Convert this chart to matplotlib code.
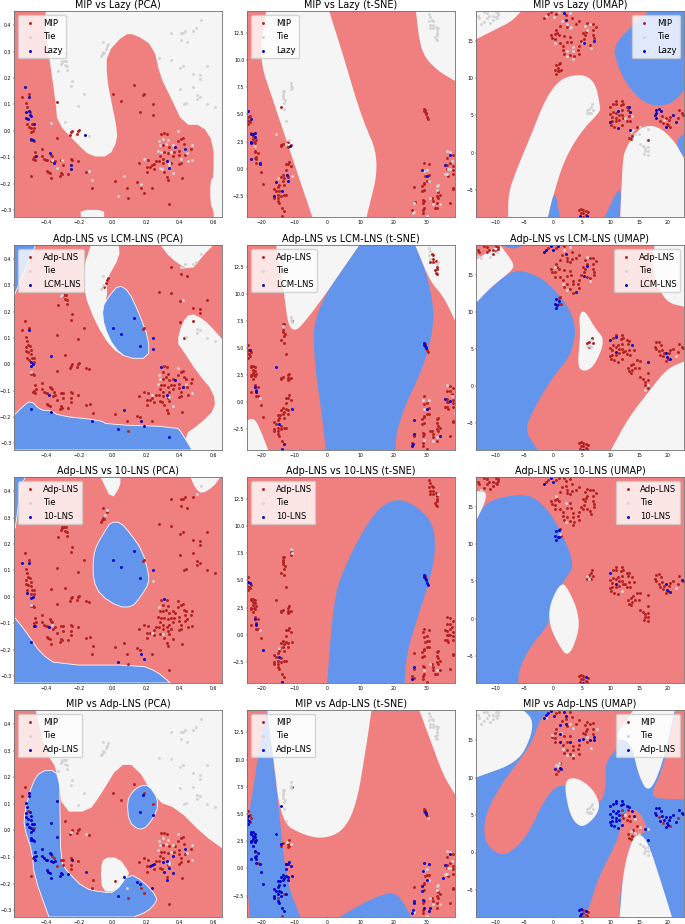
import matplotlib
matplotlib.use('Agg')
import matplotlib.pyplot as plt
import numpy as np

RED_BG = 'lightcoral'
TIE_BG = 'whitesmoke'
BLUE_BG = 'cornflowerblue'

# axis limits and ticks per projection
pca_lim = (-0.589, 0.654, -0.326, 0.454)
tsne_lim = (-24.3, 38.5, -4.47, 14.56)
umap_lim = (-13.4, 22.8, -8.6, 19.0)
pca_xticks = [-0.4, -0.2, 0.0, 0.2, 0.4, 0.6]
pca_yticks = [-0.3, -0.2, -0.1, 0.0, 0.1, 0.2, 0.3, 0.4]
tsne_xticks = [-20, -10, 0, 10, 20, 30]
tsne_yticks = [-2.5, 0.0, 2.5, 5.0, 7.5, 10.0, 12.5]
umap_xticks = [-10, -5, 0, 5, 10, 15, 20]
umap_yticks = [-5, 0, 5, 10, 15]

# ---- PCA embedding
pca_strand = [(-.54,.13),(-.525,.165),(-.515,.105),(-.51,.09),(-.50,.14),(-.50,.13),(-.505,.075),(-.52,.065),
              (-.515,.05),(-.505,.045),(-.49,.055),(-.495,.07),(-.485,.04),(-.48,.025),(-.47,.025),(-.51,.025),
              (-.50,.015),(-.49,.01),(-.485,-.005),(-.475,0),(-.47,.01),(-.49,-.03),(-.485,-.035),(-.475,-.035),
              (-.47,-.04),(-.465,-.08),(-.455,-.095),(-.47,-.1),(-.465,-.11),(-.475,-.105),(-.485,-.17)]
pca_lower = [(-.42,-.07),(-.42,-.095),(-.41,-.105),(-.40,-.11),(-.39,-.11),(-.375,-.085),(-.37,-.09),(-.36,-.095),
             (-.35,-.105),(-.345,-.115),(-.37,-.115),(-.355,-.12),(-.39,-.15),(-.385,-.155),(-.375,-.16),(-.37,-.18),
             (-.31,-.11),(-.295,-.11),(-.31,-.16),(-.315,-.17),(-.295,-.13),(-.30,-.165),(-.25,-.105),(-.245,-.11),
             (-.25,-.13),(-.25,-.145),(-.265,-.165),(-.205,-.115),(-.16,-.155),(-.135,-.15),(-.115,-.185),
             (-.125,-.215),(-.33,-.135)]
pca_mid = [(-.335,.11),(-.33,-.025),(-.25,-.005),(-.255,-.015),(-.245,0),(-.215,-.01),(-.205,0),(-.20,.005),
           (-.16,-.015),(-.14,-.018)]
pca_cloud = [(-.365,.03),(-.285,.035),(-.285,.295),(-.29,.265),(-.28,.265),(-.305,.265),(-.30,.26),(-.31,.255),
             (-.285,.25),(-.325,.225),(-.275,.245),(-.27,.23),(-.24,.19),(-.25,.17),(-.17,.14),(-.205,.095),
             (-.065,.29),(-.06,.30),(-.07,.285),(-.05,.295),(-.04,.31),(-.035,.32),(-.03,.33),(-.06,.335),
             (.35,.37),(.41,.37),(.41,.345),(.42,.37),(.43,.38),(.445,.335),(.48,.38),(.50,.39),(.53,.42),
             (.28,.275),(.35,.27),(.405,.24),(.42,.245),(.48,.215),(.525,.21),(.525,.195),(.565,.245),(.48,.165),
             (.405,.16),(.505,.135),(.505,.12),(.525,.13),(.425,.10),(.44,.105),(.565,.10),(.61,.09)]
pca_center = [(0,.14),(.05,.115),(.13,.175),(.18,.135),(.19,.14),(.165,.07),(.24,.10),(.24,.06)]
pca_blob = [(.29,-.01),(.31,-.008),(.325,-.012),(.30,-.03),(.33,-.035),(.28,-.04),(.285,-.055),(.30,-.055),(.32,-.05),
            (.34,-.06),(.36,-.055),(.375,-.06),(.39,-.04),(.39,-.015),(.41,-.03),(.42,-.025),(.425,-.05),(.44,-.055),
            (.475,-.055),(.47,-.07),(.43,-.07),(.40,-.075),(.37,-.08),(.35,-.08),(.33,-.085),(.31,-.08),(.29,-.08),
            (.27,-.075),(.285,-.095),(.30,-.105),(.325,-.115),(.34,-.105),(.36,-.095),(.395,-.09),(.41,-.105),
            (.43,-.09),(.445,-.085),(.475,-.11),(.45,-.115),(.41,-.12),(.40,-.125),(.35,-.12),(.33,-.13),(.30,-.12),
            (.28,-.115),(.26,-.115),(.25,-.125),(.235,-.13),(.225,-.135),(.205,-.135),(.16,-.12),(.19,-.105),(.21,-.11),
            (.205,-.155),(.25,-.145),(.285,-.14),(.295,-.145),(.305,-.155),(.34,-.14),(.36,-.16),(.33,-.185),(.325,-.175),
            (.415,-.18)]
pca_bottom = [(.015,-.19),(.03,-.245),(.07,-.175),(.085,-.215),(.09,-.255),(.145,-.195),(.17,-.215),(.165,-.2),
              (.185,-.235),(.235,-.215),(.335,-.278)]
pca_points = pca_strand + pca_lower + pca_mid + pca_cloud + pca_center + pca_blob + pca_bottom

pca_blob_ties = [(.28,-.04),(.285,-.055),(.30,-.03),(.33,-.035),(.39,-.0),(.27,-.075),(.29,-.08),(.32,-.05),(.35,-.08),
                 (.36,-.055),(.43,-.07),(.445,-.085),(.475,-.055),(.475,-.11),(.45,-.115),(.41,-.105),(.285,-.14),
                 (.295,-.145),(.36,-.16),(.34,-.13),(.19,-.105),(.335,-.12)]
lazy_pca_tie = pca_cloud + pca_blob_ties + [(-.36,-.11),(-.30,-.11),(-.335,-.14),(-.14,-.018),(-.125,-.185),(-.14,-.15),
                                            (.07,-.172),(.17,-.2),(.03,-.245)]
lazy_pca_blue = [(-.525,.165),(-.50,.13),(-.515,.07),(-.50,.075),(-.495,.06),(-.515,.05),(-.505,.045),(-.485,.055),
                 (-.47,.025),(-.485,-.03),(-.475,-.035),(-.455,-.095),(-.375,-.085),(-.35,-.12),(-.25,-.13),(-.25,-.145),
                 (-.165,-.015),(.325,-.115),(.34,-.14),(.375,-.06),(.43,-.07)]
lcm_pca_tie = [(-.31,.26),(-.30,.265),(-.065,.29),(-.07,.285),(-.06,.30),(-.06,.335),(.41,.37),(.42,.37),(.43,.38),
               (.48,.38),(.50,.39),(.53,.42),(.42,.245),(.505,.135),(.525,.13),(.505,.12),(.44,.105),(.565,.10),(.61,.09),
               (.39,-.015),(.28,-.04),(.285,-.055),(.27,-.075),(.235,-.115),(.34,-.125),(.36,-.16),(.475,-.11),
               (.44,-.075),(-.49,-.03)]
lcm_pca_blue = [(-.50,.13),(-.49,.01),(-.485,-.005),(-.475,0),(-.485,-.17),(-.38,-.115),(-.37,-.18),(-.365,.03),
                (-.125,-.215),(0,.14),(.05,.115),(.13,.175),(.165,.07),(.24,.10),(.24,.06),(.29,-.01),(.07,-.175),
                (.03,-.245),(.17,-.215),(.185,-.235),(.335,-.278),(.325,-.115),(.375,-.06),(.42,-.087)]
ten_pca_tie = [(-.36,-.105),(-.49,-.03),(-.035,.33),(-.045,.31),(.24,.06),(.28,-.04),(.235,-.135),(.30,-.14),(.53,.42),(.505,.39)]
ten_pca_blue = [(-.54,.13),(-.50,.13),(-.51,.015),(-.485,-.005),(-.475,0),(-.465,-.11),(-.47,-.11),(-.38,-.115),
                (-.485,-.17),(0,.14),(.05,.115),(.13,.175),(.165,.07),(.24,.10),(.31,-.008),(.03,-.245),(.17,-.215),(.185,-.235)]
adp_pca_tie = pca_cloud[2:] + [(.28,-.04),(.30,-.03),(.33,-.035),(.285,-.055),(.27,-.075),(.32,-.05),(.36,-.055),(.35,-.08),
                               (.39,-.015),(.43,-.07),(.445,-.085),(.475,-.055),(.475,-.11),(.34,-.125),(.335,-.12),
                               (-.25,-.005),(-.16,-.015),(-.16,-.155),(.07,-.172),(.085,-.215)]
adp_pca_mip = [(-.54,.13),(-.525,.165),(-.505,.075),(-.515,.025),(-.47,.01),(-.475,-.105),(-.485,-.17),(-.36,-.095),(-.35,-.105),
               (-.31,-.11),(-.295,-.11),(-.295,-.13),(-.25,-.105),(-.245,-.11),(-.25,-.13),(-.25,-.145),(-.205,-.115),
               (-.135,-.15),(-.115,-.185),(-.125,-.215),(-.33,-.135)]
adp_pca_blue = [p for p in pca_strand + pca_lower if p not in adp_pca_mip] + \
               [(-.335,.11),(-.365,.03),(-.33,-.025),(-.245,-.11),(0.18,.135),(.165,.07),(.24,.06),(.07,-.175),(.03,-.245),
                (.145,-.195),(.165,-.2),(.235,-.215),(.43,-.07),(.34,-.14),(.325,-.115),(.305,-.155),(.36,-.095),(.325,-.185),
                (.25,-.125),(.235,-.13),(.225,-.135),(.30,-.12),(.36,-.16)]

# ---- t-SNE embedding
tsne_left = [(-24,5.3),(-24,4.8),(-23.5,4.9),(-24.3,4.5),(-23.8,4.4),(-24,4.1),(-23.5,4.3),(-23.2,4.6),(-23,3.3),(-23,3.2),
             (-22.5,3.3),(-22,3.2),(-22.5,3),(-22,2.9),(-22.6,2.7),(-23,2.5),(-23,2.4),(-22.3,2.5),(-22,2.4),(-21.5,2.6),
             (-22.5,2.1),(-22,1.6),(-22,1.5),(-21,1.4),(-21.5,1.1),(-22,1),(-23,.9),(-21.5,.9),(-21,.5),(-20.5,.4),
             (-21.5,.5),(-20,-.3),(-19.5,-1.4)]
tsne_low = [(-13.5,-.6),(-14,-.8),(-13,-.9),(-12.5,-.7),(-12,-.8),(-12,-1.1),(-13.5,-1.1),(-15,-1.2),(-14.3,-1.2),(-14.5,-1.5),
            (-15,-1.7),(-13,-1.5),(-16,-1.9),(-15.5,-2.1),(-14.5,-2.1),(-14,-2.2),(-15,-2.4),(-16.2,-2.5),(-16,-2.7),(-15,-2.7),
            (-14,-2.5),(-13,-2.4),(-12.5,-2.4),(-15,-3),(-14.5,-3.2),(-13.8,-3.6),(-13.2,-3.9),(-13.8,-4.4),(-12.5,-.1),
            (-12,.4),(-11.5,.6),(-11,.2),(-12.5,.4),(-10.8,-.7)]
tsne_mid = [(-14,2.2),(-13.5,2.3),(-14,2.1),(-12,2.5),(-12,2.2),(-11.5,2.1),(-11,2.2),(-12,2),(-11.5,2.6),(-14,5.7)]
tsne_tied = [(-15.5,3.2),(-12.5,4.4),(-13,5.5),(-12.8,6.3),(-13,6.1),(-13.5,6.5),(-13.5,6.9),(-13.5,7.2),(-13,7.2),
             (-13.4,6.7),(-11,7.4),(-11,7.6),(-11,7.9),(-10.8,7.5)]
tsne_diag = [(29,5.5),(29.2,5.3),(29.4,5.2),(29.6,5),(30,4.8),(30.3,4.6),(29.5,5.4),(29.7,5.1)]
tsne_top = [(30.8,14.3),(31,14),(30.6,13.6),(31,13.3),(31.5,13.7),(32,13.6),(31,13),(32,13.3),(32,13),(33.5,13),(33,12.8),
            (33.2,12.3),(32.5,12.2),(32.8,12),(33,11.9),(33,12.5),(32.7,13.1)]
tsne_right = [(26.2,-1.7),(25.7,-4.1),(25.5,-3.8),(26,-4),(26.2,-3.2),(26.3,-3.1),(28.8,.2),(29.2,.5),(30.8,.4),(29,-.2),(30,-.1),
              (29.5,-.7),(30.8,-.6),(30,-.6),(29,-1.3),(29,-1.4),(30,-1.1),(30.5,-1.1),(28.5,-1.6),(28.6,-2.1),(29.2,-2),
              (28.9,-2.9),(29,-3),(28.7,-3.2),(29,-3.6),(28.8,-3.8),(28.9,-4.1),(30,-4.4),(31,-2.7),(31.5,-2.7),(31.8,-3),
              (32,-3.3),(33,-1.6),(33.5,-1.5),(33,-2),(33.5,-2.2),(33,-2.5),(34,-2.4),(33.5,-2.7),(33,-3.2),(34,-3.3),(32.5,-3.6),
              (33,-3.6),(37,-3.2),(35.5,-.5),(36,-.5),(36,0),(36.5,0),(37,0),(37.8,.2),(38,-.1),(36.5,-.7),(38,-.5),(35.5,.4),
              (36,.3),(36,1),(37,1),(36,1.6),(37,1.5),(38,1.3),(37.5,.7),(37,.5),(38,-1.8),(37.8,-1.9)]
tsne_points = tsne_left + tsne_low + tsne_mid + tsne_tied + tsne_diag + tsne_top + tsne_right

tsne_right_ties = [(25.7,-4.1),(26,-4),(26.2,-3.2),(30,-4.4),(31,-2.7),(32,-3.3),(33,-2),(33,-1.6),(33.5,-1.5),(34,-3.3),
                   (30,-.1),(29,-.2),(30.5,-1.1),(35.5,-.5),(36,-.5),(36,1.6),(37,1.5),(37.5,.7),(36.5,0),(37,0)]
lazy_tsne_tie = tsne_tied + tsne_top + tsne_right_ties + [(-22,2.1),(-15,-.9),(-12.5,2.3),(-11.5,2.6),(-10.8,-.7)]
lazy_tsne_blue = [(-24,5.3),(-23,4.6),(-23,3.2),(-22.5,3.2),(-22,3.3),(-22,2.9),(-23,2.5),(-23,2.4),(-23,.9),(-20.5,.4),(-20.5,.5),
                  (-15.5,-1.2),(-16.2,-2.5),(-13.8,-2.1),(-12.3,-.6),(-12,-1.1),(-11.2,2.1),(28.6,-.1),(29.9,-.7),(35.5,.3),(37,1.3)]
lcm_tsne_tie = [(-13.5,7),(-11,7.6),(-11,7.9),(-10.8,7.4),(30.8,14.3),(31,14),(30.6,13.6),(31,13.3),(33.5,13),(33,12.8),
                (-20.5,.4),(28.8,.2),(30.8,.2),(29,-.7),(36,1.6),(37.5,.5),(38.5,-1),(29,-3.5),(33,-3.3),(32,-3.6)]
lcm_tsne_blue = [(-23.5,4.8),(-22,1.4),(-21.5,1),(-21.5,.9),(-15.5,3.2),(-14.5,-2.1),(-10.8,-.7),(-13.2,-3.9),(-13.8,-4.4),
                 (26.2,-1.7),(26,-3),(25.8,-3.9),(25.5,-4.1),(29,5.5),(29.2,5.3),(29.4,5.2),(29.6,5),(29.9,-.7),(34,-3.2),(35.5,.3),(37,.1)]
ten_tsne_tie = [(-11,7.9),(-10.8,7.5),(-20.5,.4),(-14.7,-1.2),(33.5,13),(31,-2.7),(29,-3.3),(33,-3.3)]
ten_tsne_blue = [(-24,4.9),(-23.5,4.8),(-22,1.4),(-21.5,1),(-21.5,.9),(-19.5,-1.4),(-14.5,-2.1),(-13.8,-4.4),(26,-3),(25.5,-4.1),
                 (29,5.5),(29.2,5.3),(29.4,5.2),(29.6,5),(30,4.8),(30.3,4.6)]
adp_tsne_tie = tsne_tied[:-1] + tsne_top + tsne_right_ties + [(-11,2.2),(-12.2,2.4),(30.3,4.6)]
adp_tsne_mip = [(-24,5.3),(-23.5,4.9),(-23.5,4.3),(-23.2,4.6),(-22.3,2.5),(-22,1.5),(-21,.5),(-15,-2.7),(-13,-2.4),(-13.8,-4.4)]
adp_tsne_blue = [p for p in tsne_left + tsne_low if p not in adp_tsne_mip] + \
                [(-15.5,3.2),(-14,2.2),(-14,5.7),(-12.5,.4),(29.6,5),(29.7,5.1),(29.4,5.2),(26,-3),(26.2,-3.2),(25.7,-3.8),(25.5,-4.1),
                 (29.2,.5),(30.8,.4),(28.8,-.2),(28.5,-1.6),(28.6,-2.1),(28.9,-2.9),(30,-1.1),(29,-3.6),(31,-3.6),(30.8,-3.9),
                 (35.5,.3),(37,1.3),(35,-.9)]

# ---- UMAP embedding
umap_corner = [(-13,18.3),(-12.8,18),(-12,18.8),(-11.5,18.7),(-11.5,18),(-12,17.5),(-11,17.4),(-10.5,18.3),(-10,18.8),(-9.5,18.7),
               (-10,18.2),(-9.7,18),(-11.2,18.3),(-10.5,17.8),(-9.5,18.4),(-12.5,17.2)]
umap_top = [(-1.5,18),(-1.3,18.3),(-.8,18.6),(-.3,18.9),(.5,18.6),(.2,18.2),(1,18.8),(2,18.9),(2.3,18.4),(3,18.7),(3.3,18.1),(2.3,17.8),
            (1.6,17.6),(2.5,17.3),(3.3,17.1),(4,17.2),(4.6,17.7),(2.4,16.9),(3,16.7),(1.2,17),(.5,16.5),(.7,16),(.3,15.9),(-.3,15.8),
            (-.1,15.4),(.4,15.3),(1,15.8),(2,15.6),(2.9,15.5),(.3,14.7),(1.2,14.7),(1.8,14.3),(2.5,14.8),(3.2,14.9),(3.4,14.2),
            (3.4,13.7),(2.5,13.7),(1.7,13.8),(2,13.3),(2.5,13),(3,13.1),(3.7,13),(3.5,12.6),(4.6,13.2),(4.3,13.8),(4.5,14.3),
            (5.2,16),(5.5,15.8),(5.4,15.3),(5.8,16.2),(6,16.5),(5.6,17),(6,17.4),(6.5,17.2),(7,17.3),(7.5,16.8),(6.9,16.5),
            (7,15.8),(7.2,15.4),(7.1,15),(6.5,14.5),(6.6,14),(5.9,14.7),(5.3,14.7),(4.9,15)]
umap_small = [(.5,11.7),(1,11.9),(1.2,12),(.8,11.4),(.3,11.1),(1.4,11.1),(.8,10.9),(1,11),(.5,10.5)]
umap_arc = [(6,5.8),(6.3,5.9),(6.8,6.5),(6.7,6.2),(7,5.8),(6.5,5.4),(6,5.4),(6.7,5.3),(6.2,5.3)]
umap_blob = [(10,6.2),(10.5,6.5),(11,6.9),(11,6.6),(11.8,6.4),(12,6.9),(12.2,6.5),(12.8,6.2),(13.2,6.1),(13.7,5.6),(13,5.7),(12,5.7),(11.4,5.6),
             (11,5.3),(10.4,5.5),(9.9,5.2),(10.2,4.8),(10.9,4.6),(11.5,5),(12,5),(12.5,4.7),(13.2,4.9),(14.1,4.9),(13.4,4.2),(12.8,4.3),
             (12.2,4.6),(11.5,4.4),(10.9,4.2),(10.3,4.2),(9.9,4.1),(10.1,3.7),(10.7,3.5),(11.3,3.3),(12,3.7)]
umap_tail = [(13,2.5),(13.2,2),(13.6,1.8),(13.8,2.2),(13.5,2.8),(14,3),(14.6,3.5),(14.2,2.5),(15.2,3.4),(15,2.5),(16.5,3.2),(16.5,1.7),
             (15.2,1.2),(15.6,.9),(16,.6),(16.5,.8),(16,.2),(15.8,-.1),(16.5,-.3),(16.6,.2)]
umap_far = [(17.7,5.3),(18,5.9),(18.4,6),(18.8,5.6),(18,5),(18.4,4.7),(19,4.9),(19.4,4.4),(19.7,4.7),(20.2,4.4),(20.9,5),(20.4,4.8),
            (18.6,4.2),(19.2,4),(19.8,3.9),(20.1,3.7),(20.4,3.5),(19.7,3.4),(21.4,4.1),(22,5.7),(22.5,5.3),(22.7,5.1),(21.8,4.6)]
umap_bottom = [(4.5,-7.7),(4.8,-7.5),(5.3,-7.6),(5.8,-7.8),(6.1,-7.9),(4.8,-8),(5.2,-8.1),(5.7,-8.3),(4.7,-8.5),(5.2,-8.6),(6,-8.5)]
umap_points = umap_corner + umap_top + umap_small + umap_arc + umap_blob + umap_tail + umap_far + umap_bottom

umap_top_ties = [(-1.3,18.3),(1,18.8),(.2,18.2),(3,18.7),(1.6,17.6),(2.5,17.3),(2.9,16.7),(3.2,16.9),(5.6,17),(6.5,17.2),(6,16.5),
                 (.3,14.7),(3.4,14.2),(2.5,13.7),(2.5,13),(3.5,12.6),(3.4,13.7),(6.6,14),(5.3,14.7)]
lazy_umap_tie = umap_corner + umap_arc + umap_tail[8:11] + umap_tail[12:] + umap_top_ties + \
                [(13.5,2.8),(14,3),(14.2,2.5),(12.5,4.7),(13.7,4.9),(19.4,4.4)]
lazy_umap_blue = [(2,18.7),(2.3,17.8),(5.4,14.7),(7.2,15),(11.4,5.6),(13.2,6.1),(13.4,5.5),(9.9,4.1),(11.3,3.3),(13.4,3),(18,5.3),
                  (18,5.8),(18.4,5.9),(18.8,5.6),(17.7,5),(18,4.6),(19.7,3.4),(20.9,5),(21.4,4.1),(4.7,-8.5),(6,-8.5)]
lcm_umap_tie = [(-13,17.5),(-12.5,17.2),(-11,17.4),(-9.7,18),(.4,16),(3,18.7),(2,18.3),(1.7,13.8),(2.5,13),(6,17.4),(6.5,14.2),
                (6.7,6.2),(6.5,5.4),(6,5.4),(6.7,5.3),(16.6,.2),(16,-.5),(21.4,4.1)]
lcm_umap_blue = [(-1.5,18),(-1.3,18.3),(-.3,18.9),(0,18.3),(.8,18.9),(2.3,17.8),(6,16.2),(5.4,14.8),(4,12.7),(.5,11.7),(1,11.4),(.3,11.1),
                 (.7,10.9),(.5,10.5),(10,6.2),(11,6.6),(13.7,5.6),(10.9,4.6),(16.5,3.2),(19.7,4.5),(19.9,3.9),(20.4,3.7),(5.2,-8.6)]
ten_umap_tie = [(-12.5,17.2),(.5,16.5),(2.3,15.5),(2.3,13),(1.2,11.4),(6,5.8),(6.2,5.3),(12,3.7),(21.4,4.1)]
ten_umap_blue = [(-1.5,18),(-.3,18.9),(0,18.3),(.5,11.7),(1,11.9),(.3,11.1),(.8,10.9),(.5,10.5),(1,11),(10,6.2),(10.9,4.6),(19.7,4.7),
                 (19.9,3.9),(20.4,3.6),(22.5,5.2),(5.8,-7.8),(5.2,-8.6)]
adp_umap_tie = umap_corner + umap_arc + umap_tail[8:11] + umap_tail[12:] + \
               [(-1.3,17.9),(-.2,15.7),(1.4,16),(3,17.2),(3.5,16.6),(7.6,16.5),(6,15.4),(1.7,13.8),(2.5,13),(3.5,13),(6.6,14),(.5,11.7),
                (1,12),(.8,11.5),(12.5,5),(14.2,4.5),(14.2,2.6),(13.5,2.9)]
adp_umap_mip = [(21.8,4.6),(20.4,3.5),(18.4,4.7),(19.2,4),(12,5),(12.5,4.7),(12,5.7),(13,5.7),(13.2,4.9),(13.4,4.2),(12.8,4.3),(12.2,4.6)]
adp_umap_blue = [p for p in umap_blob + umap_far if p not in adp_umap_mip] + \
                [(-1.5,18),(-1.3,18.3),(-.8,18.6),(-.3,18.9),(.2,18.2),(2,18.8),(2.3,18.2),(2.3,17.2),(1.2,17),(1.2,15.8),(1.2,14.7),(3,14.8),
                 (4.5,15),(5.3,15.2),(7.2,15.4),(7.2,15),(6.5,15),(.3,11.1),(1.4,11.1),(1.2,11.3),(16,3.2),(16.5,1.7),(4.8,-7.5),(4.5,-7.7),
                 (5.8,-7.8),(4.8,-8.2),(4.7,-8.5)]

# ---- decision regions, one polygon list per panel: (colour, outline)
lazy_pca_regions = [(RED_BG, [(-.589,.454),(-.40,.454),(-.40,.37),(-.34,.11),(-.33,.03),(-.21,-.05),(-.13,-.097),(-.02,-.097),(.03,-.034),
                              (.02,.03),(-.01,.118),(-.035,.206),(-.035,.294),(.07,.366),(.135,.366),(.245,.32),(.285,.206),(.345,.13),
                              (.425,.023),(.535,.023),(.604,-.046),(.604,-.173),(.584,-.19),(.584,-.273),(.604,-.305),(.604,-.326),
                              (-.05,-.326),(-.05,-.299),(-.19,-.299),(-.19,-.326),(-.589,-.326)])]
lazy_tsne_regions = [(TIE_BG, [(-20.7,10.2),(-18.5,14.56),(.5,14.56),(5.2,10),(10.2,4.8),(16,.75),(11.8,-4.47),(-4.6,-4.47),(-10.4,.8),(-16.5,6.35)]),
                     (TIE_BG, [(26.7,14.56),(28.1,10.8),(32.9,9.1),(38.5,8.1),(38.5,14.56)])]
lazy_umap_regions = [(TIE_BG, [(-13.4,19),(-5.5,19),(-7.2,17.6),(-10.1,16.5),(-13.4,15.2)]),
                     (TIE_BG, [(-7.8,-8.6),(-7.8,-5.4),(-6.1,-1.8),(-3.7,2.6),(-1.4,7.1),(.9,9.6),(3.2,10.4),(5.8,10.4),(7.5,9.1),(8.2,6.2),(8.2,5.5),
                               (4.9,2.9),(2,-.9),(.3,-5),(-.85,-8.6)]),
                     (BLUE_BG, [(-.85,-8.6),(.3,-4.7),(1.2,-8.6)]),
                     (BLUE_BG, [(9,-8.6),(11.9,-3.8),(11.7,-8.6)]),
                     (TIE_BG, [(11.7,-8.6),(12.1,-1.4),(12.5,.4),(14.5,2.9),(16.5,3.75),(18.8,3.3),(21.2,1.5),(22.8,-.7),(22.8,-8.6)]),
                     (BLUE_BG, [(21.2,1.5),(22.8,2.6),(22.8,-.7)]),
                     (BLUE_BG, [(16.7,19),(10.3,14.6),(11.3,11.6),(13,8.9),(15.9,6.65),(18.8,6.2),(21.2,6.9),(22.8,8.4),(22.8,19)])]
lcm_pca_regions = [(BLUE_BG, [(-.589,.454),(-.46,.454),(-.589,.26)]),
                   (TIE_BG, [(-.13,.454),(.037,.454),(.043,.41),(-.036,.322),(-.032,.253),(-.062,.209),(.008,.07),(.087,.023),(-.012,.064),
                             (-.102,.158),(-.171,.272),(-.171,.372)]),
                   (BLUE_BG, [(.037,.303),(.097,.278),(.157,.196),(.216,.096),(.216,.023),(.087,.023),(.008,.064),(-.052,.146),(-.062,.215),(-.022,.259)]),
                   (TIE_BG, [(.286,.454),(.346,.404),(.465,.353),(.544,.416),(.604,.454)]),
                   (TIE_BG, [(.654,.096),(.604,.133),(.544,.171),(.465,.196),(.415,.158),(.385,.083),(.415,.058),(.505,-.03),(.604,-.106),(.614,-.169),
                             (.525,-.225),(.425,-.27),(.475,-.326),(.654,-.326)]),
                   (BLUE_BG, [(-.589,-.326),(-.589,-.194),(-.539,-.162),(-.489,-.137),(-.43,-.175),(-.37,-.175),(-.32,-.196),(-.072,-.213),(-.032,-.229),
                              (.385,-.238),(.415,-.263),(.475,-.326)])]
lcm_tsne_regions = [(TIE_BG, [(-15.5,14.56),(-13.4,10.8),(-11.4,5.9),(-4.4,8.3),(9.7,14.56)]),
                    (TIE_BG, [(26.4,14.56),(30.9,11.2),(34.9,9.85),(38.5,7.55),(38.5,14.56)]),
                    (BLUE_BG, [(-4.4,8.3),(9.7,14.56),(26.4,14.56),(29.9,12),(32.4,8.3),(30.9,5.2),(27.9,2.5),(23.9,0),(20.8,-2.8),(20.5,-4.47),
                               (-.5,-4.47),(-1.8,-.9),(-3.9,3.4)]),
                    (TIE_BG, [(-24.3,-1.7),(-22,-1.5),(-20,-2.8),(-17.9,-4.47),(-24.3,-4.47)])]
lcm_umap_regions = [(BLUE_BG, [(-13.4,11.2),(-10.7,13.4),(-6.9,15.7),(-3.7,15.2),(-.85,13.9),(2.6,10.9),(4.1,7.8),(3.2,4.2),(-.3,1),(-4,-4),(-4.8,-6.2),
                               (-2.6,-8.6),(-13.4,-8.6)]),
                    (BLUE_BG, [(-9,19),(-6.9,18.4),(-4.9,19)]),
                    (TIE_BG, [(-13.4,11.2),(-10.7,13.4),(-6.9,15.7),(-6.9,16.6),(-8.4,18.2),(-9.2,19),(-10.7,18.4),(-13.4,17)]),
                    (TIE_BG, [(17.7,19),(17.1,16.4),(18.3,13.2),(20,11.2),(22.8,10.7),(22.8,19)]),
                    (TIE_BG, [(5.5,10.3),(4.5,9.6),(4.8,6.9),(4.2,2.6),(5.5,1.9),(7.3,2.8),(9.1,6.2),(7.3,7.8)]),
                    (TIE_BG, [(10.1,-8.6),(13,-4.4),(17,-.4),(19.9,2.4),(22.8,3.3),(22.8,-8.6)])]
ten_pca_regions = [(BLUE_BG, [(-.589,.454),(-.52,.454),(-.55,.42),(-.58,.26),(-.589,.26)]),
                   (TIE_BG, [(-.072,.454),(-.006,.367),(.047,.42),(.047,.454)]),
                   (TIE_BG, [(.465,.454),(.495,.41),(.535,.39),(.604,.418),(.644,.454)]),
                   (BLUE_BG, [(-.012,.283),(.047,.283),(.107,.239),(.177,.176),(.216,.088),(.216,.05),(.167,0),(.117,-.038),(.037,-.038),
                              (-.072,.006),(-.116,.063),(-.116,.151),(-.092,.201),(-.042,.252)]),
                   (BLUE_BG, [(-.589,-.075),(-.51,-.138),(-.43,-.214),(-.33,-.258),(.167,-.258),(.266,-.283),(.345,-.326),(-.589,-.326)])]
ten_tsne_regions = [(BLUE_BG, [(-.1,-4.47),(1.9,3.5),(5.7,6.6),(10.7,9.6),(15.8,11.8),(20.8,12.56),(25.8,12.1),(31.9,10.4),(32.7,7.8),(30.9,5),
                               (26.9,1.3),(23.9,-1.75),(23.3,-4.47)])]
ten_umap_regions = [(BLUE_BG, [(-13.4,13.1),(-11.7,15.8),(-5.5,16.8),(-2.6,16),(.3,13.3),(2.6,9.7),(3.7,6.8),(1.75,5.2),(-.6,-.7),(-3.7,-3.4),(-5.8,-6.5),
                               (-6.1,-8.6),(-13.4,-8.6)]),
                    (TIE_BG, [(1.5,5.1),(-.6,2),(-.7,-.7),(.9,-3.4),(2.7,-5.3),(4.6,-1.6),(4.3,1.1),(2.9,3.6)]),
                    (TIE_BG, [(-13.4,17.1),(-11.6,17.1),(-11.7,15.8),(-13.4,13.1)])]
adp_pca_regions = [(TIE_BG, [(-.46,.454),(-.40,.297),(-.33,.228),(-.30,.071),(-.142,.071),(-.072,.134),(.037,.247),(.137,.247),(.266,.109),(.385,.083),
                             (.544,-.017),(.654,-.067),(.654,.454)]),
                   (BLUE_BG, [(-.43,.224),(-.34,.228),(-.315,.172),(-.315,.109),(-.31,-.118),(-.27,-.155),(-.171,-.218),(-.062,-.233),(.017,-.233),
                              (.097,-.161),(.186,-.193),(.266,-.25),(.256,-.275),(.206,-.306),(.127,-.326),(-.38,-.326),(-.47,-.168),(-.48,-.08),
                              (-.53,.014),(-.525,.071),(-.48,.178)]),
                   (TIE_BG, [(-.052,-.102),(.037,-.102),(.097,-.155),(.097,-.168),(.017,-.23),(-.062,-.23),(-.072,-.143)]),
                   (BLUE_BG, [(.167,.169),(.216,.171),(.27,.121),(.266,.071),(.206,.014),(.157,.002),(.097,.033),(.087,.109),(.117,.146)])]
adp_tsne_regions = [(BLUE_BG, [(-18.2,14.56),(-16.5,10.5),(-14.5,4.9),(-12.4,-1.2),(-8.2,-4.47),(-23.5,-4.47),(-24.3,-.6),(-24.3,4.3),(-22.5,7.1),(-20.5,11.4)]),
                    (TIE_BG, [(-18.2,14.56),(-16.5,10.5),(-14,4.2),(-7.4,3.1),(-1.4,2.7),(4.7,3.4),(8.8,5.85),(11.8,11.4),(13.3,14.56)]),
                    (TIE_BG, [(27.7,14.56),(31.9,11.1),(34.9,8.6),(38.5,6.8),(38.5,14.56)]),
                    (BLUE_BG, [(3.7,-4.47),(10.7,-3.2),(15.8,-2.5),(19.8,-2.2),(22.3,-2.8),(25.3,-4.47)])]
adp_umap_regions = [(BLUE_BG, [(-13.4,19),(22.8,19),(22.8,-8.6),(-13.4,-8.6)]),
                    (TIE_BG, [(-13.4,19),(-5.2,19),(-3.5,17.8),(-3.8,15.4),(-6.1,12),(-13.4,10)]),
                    (RED_BG, [(-2.3,17.8),(-.3,19),(13.9,19),(11.3,14),(9,11.9),(9.3,9.5),(8.4,5.9),(1.75,9.6),(-1.4,7.3),(-4.3,2.4),(-7.2,.1),(-9.2,-.4),
                              (-11.6,1),(-12.1,3.25),(-11.3,5.9),(-9,9.1),(-6.1,12),(-3.5,14.9)]),
                    (TIE_BG, [(1.9,9.75),(4.4,10),(7.3,8.2),(8.4,5.7),(5.5,3.3),(3.8,3.9),(2.6,5.9)]),
                    (RED_BG, [(6.4,-7.1),(7.8,-3.5),(11.3,1.7),(11.6,3.25),(12.5,5.5),(14.2,5.9),(15.8,4.6),(16.4,2.6),(14.8,2.6),(12.8,-1.2),(11.6,-5.7),
                              (11.6,-8.6),(5.5,-8.6)]),
                    (TIE_BG, [(11.6,-8.6),(12.2,-2.6),(13.6,1.5),(14.9,2.6),(16.5,1.5),(18.8,-3.9),(20.7,-8.6)]),
                    (TIE_BG, [(14,19),(10.4,15.1),(13.6,14.9),(14.8,10.4),(16.7,7.7),(19.1,11.8),(21.2,19)]),
                    (RED_BG, [(21.2,19),(22.8,19),(22.8,7.1),(19.4,7.1),(16.8,7.5),(19.1,10.9),(21.2,18.3)])]

# column / row positions in pixels
col_left = [14, 247, 476]
col_right = [222, 455, 684]
row_top = [11, 245, 477, 710]
row_bottom = [217, 450, 683, 917]
FIG_W, FIG_H = 685, 924

comparisons = [('MIP', 'Lazy'), ('Adp-LNS', 'LCM-LNS'), ('Adp-LNS', '10-LNS'), ('MIP', 'Adp-LNS')]
projections = [('PCA', pca_points, pca_lim, pca_xticks, pca_yticks),
               ('t-SNE', tsne_points, tsne_lim, tsne_xticks, tsne_yticks),
               ('UMAP', umap_points, umap_lim, umap_xticks, umap_yticks)]
panel_regions = [[lazy_pca_regions, lazy_tsne_regions, lazy_umap_regions],
                 [lcm_pca_regions, lcm_tsne_regions, lcm_umap_regions],
                 [ten_pca_regions, ten_tsne_regions, ten_umap_regions],
                 [adp_pca_regions, adp_tsne_regions, adp_umap_regions]]
panel_ties = [[lazy_pca_tie, lazy_tsne_tie, lazy_umap_tie],
              [lcm_pca_tie, lcm_tsne_tie, lcm_umap_tie],
              [ten_pca_tie, ten_tsne_tie, ten_umap_tie],
              [adp_pca_tie, adp_tsne_tie, adp_umap_tie]]
panel_blues = [[lazy_pca_blue, lazy_tsne_blue, lazy_umap_blue],
               [lcm_pca_blue, lcm_tsne_blue, lcm_umap_blue],
               [ten_pca_blue, ten_tsne_blue, ten_umap_blue],
               [adp_pca_blue, adp_tsne_blue, adp_umap_blue]]


def split_points(points, tie, blue, lim):
    '''每个 tie / blue 点去掉最近的一个基础点，剩下的是第一类'''
    pts = np.array(points, dtype=float)
    scale = np.array([lim[1] - lim[0], lim[3] - lim[2]])
    keep = np.ones(len(pts), dtype=bool)
    for p in list(tie) + list(blue):
        d = (((pts - np.array(p)) / scale) ** 2).sum(axis=1)
        d[~keep] = 9
        i = d.argmin()
        if d[i] < 0.0006:
            keep[i] = False
    return pts[keep]


def smooth(outline, lim, rounds):
    '''圆角：落在坐标轴边上的顶点不动，其余切角'''
    pts = list(outline)
    fixed = [abs(x - lim[0]) < 1e-6 or abs(x - lim[1]) < 1e-6 or abs(y - lim[2]) < 1e-6 or abs(y - lim[3]) < 1e-6
             for x, y in pts]
    for _ in range(rounds):
        new_pts, new_fixed = [], []
        n = len(pts)
        for i in range(n):
            a, b = pts[i], pts[(i + 1) % n]
            if fixed[i]:
                new_pts.append(a)
                new_fixed.append(True)
            else:
                new_pts.append((0.75 * a[0] + 0.25 * b[0], 0.75 * a[1] + 0.25 * b[1]))
                new_fixed.append(False)
            if not fixed[(i + 1) % n]:
                pass
            if not fixed[i] or not fixed[(i + 1) % n]:
                new_pts.append((0.25 * a[0] + 0.75 * b[0], 0.25 * a[1] + 0.75 * b[1]))
                new_fixed.append(False)
        pts, fixed = new_pts, new_fixed
    return pts


fig = plt.figure(figsize=(FIG_W / 100, FIG_H / 100), dpi=100)

for r, (first, second) in enumerate(comparisons):
    for c, (proj, points, lim, xticks, yticks) in enumerate(projections):
        ax = fig.add_axes([col_left[c] / FIG_W, 1 - row_bottom[r] / FIG_H,
                           (col_right[c] - col_left[c]) / FIG_W, (row_bottom[r] - row_top[r]) / FIG_H])
        ax.set_facecolor(TIE_BG if (r, c) == (0, 0) else RED_BG)
        for colour, outline in panel_regions[r][c]:
            xs, ys = zip(*smooth(outline, lim, 1 if c == 0 else 3))
            edge = 'white' if (c == 0 and colour == BLUE_BG) else 'none'
            ax.fill(xs, ys, facecolor=colour, edgecolor=edge, linewidth=0.6)

        tie = np.array(panel_ties[r][c])
        blue = np.array(panel_blues[r][c])
        red = split_points(points, panel_ties[r][c], panel_blues[r][c], lim)
        ax.scatter(red[:, 0], red[:, 1], s=4.5, c='firebrick', linewidths=0, label=first)
        ax.scatter(tie[:, 0], tie[:, 1], s=4.5, c='lightgray', linewidths=0, label='Tie')
        ax.scatter(blue[:, 0], blue[:, 1], s=4.5, c='mediumblue', linewidths=0, label=second)

        ax.set_xlim(lim[0], lim[1])
        ax.set_ylim(lim[2], lim[3])
        ax.set_xticks(xticks)
        ax.set_yticks(yticks)
        ax.tick_params(labelsize=3.3, length=1, width=0.3, pad=1)
        for s in ax.spines.values():
            s.set_linewidth(0.6)
            s.set_color('#707070')
        ax.set_title(f'{first} vs {second} ({proj})', fontsize=6.9, pad=2)
        ax.legend(loc='upper right' if c == 2 else 'upper left', fontsize=6.1,
                  handletextpad=0.5, labelspacing=0.55, framealpha=0.8)

fig.savefig('out.png', dpi=100)
